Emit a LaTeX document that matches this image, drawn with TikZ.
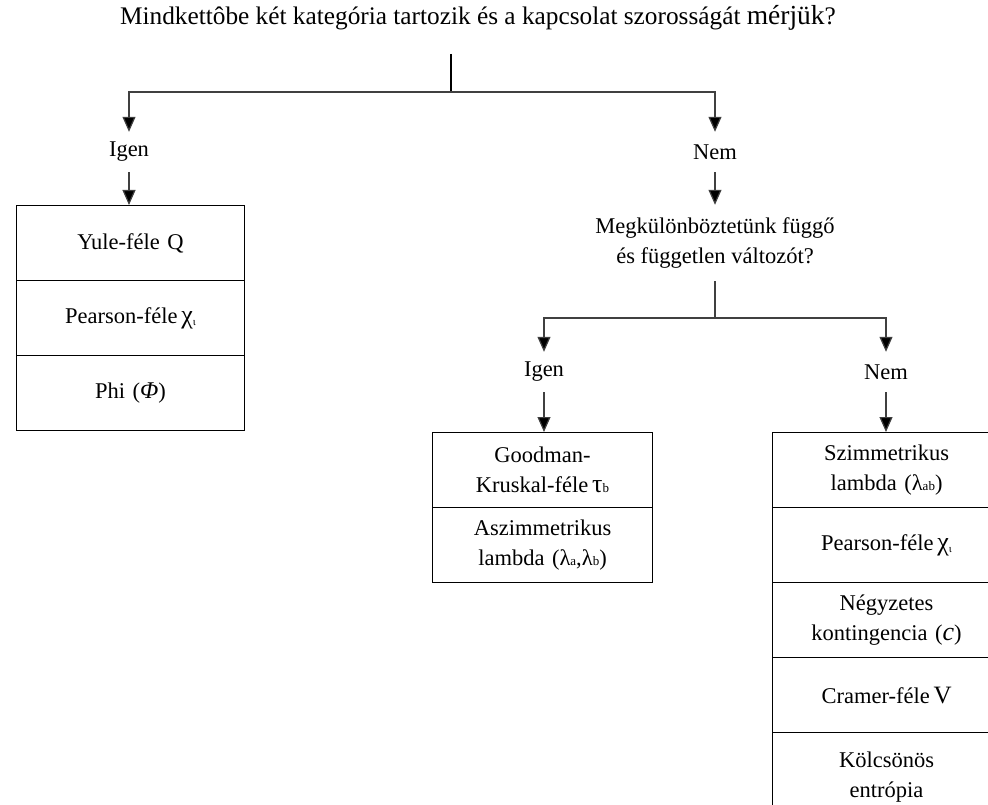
\documentclass[tikz,border=0pt]{standalone}
\usepackage{fontspec}
\setmainfont{Liberation Serif}
\usetikzlibrary{arrows.meta}

\newcommand{\smallsub}[1]{{\fontsize{13}{13}\selectfont #1}}
\newcommand{\chimark}{{\fontsize{26}{26}\selectfont χ}\raisebox{-2pt}{\fontsize{11}{11}\selectfont ι}}

\begin{document}
\begin{tikzpicture}[x=1pt,y=-1pt,
  font=\fontsize{22.5}{30}\selectfont,
  conn/.style={line width=1.2pt, draw=black!75},
  arr/.style={conn, -{Triangle[length=15pt,width=13pt,fill=black]}},
  lbl/.style={inner sep=0pt, minimum height=40pt, align=center},
  cell/.style={draw, line width=1.1pt, minimum width=228pt, minimum height=75pt,
               inner sep=0pt, align=center, anchor=north west, text width=220pt},
  midcell/.style={cell, minimum width=220pt, text width=212pt}]

\useasboundingbox (0,0) rectangle (988,805);
\fill[white] (0,0) rectangle (988,805);
\clip (0,0) rectangle (988,805);

% question at the top
\node[inner sep=0pt, font=\fontsize{25.3}{30}\selectfont] (title) at (478,18)
  {Mindkettôbe két kategória tartozik és a kapcsolat szorosságát {\fontsize{27.5}{30}\selectfont mérjük}?};
\coordinate (t1) at (451,54);
\coordinate (j1) at (451,92);

% first split
\node[lbl] (igen1) at (129,152) {Igen};
\node[lbl] (nem1) at (715,152) {Nem};

% left box
\node[cell] (yule) at (16,205) {Yule-féle Q};
\node[cell] (pear1) at (16,280) {Pearson-féle\,\chimark};
\node[cell] (phi) at (16,355) {Phi (\textit{\fontsize{24}{24}\selectfont Φ})};

% second question
\node[inner sep=0pt, minimum height=76pt, align=center] (q2) at (715,243)
  {Megkülönböztetünk függő\\és független változót?};
\coordinate (j2) at (715,318);

\node[lbl] (igen2) at (544,372) {Igen};
\node[lbl] (nem2) at (886,372) {Nem};

% middle box
\node[midcell] (gk) at (432,432) {Goodman-\\Kruskal-féle\,{\fontsize{26}{26}\selectfont τ}\smallsub{b}};
\node[midcell] (asz) at (432,507) {Aszimmetrikus\\lambda (λ\smallsub{a},λ\smallsub{b})};

% right box
\node[cell] (szim) at (772,432) {Szimmetrikus\\lambda (λ\smallsub{ab})};
\node[cell] (pear2) at (772,507) {Pearson-féle\,\chimark};
\node[cell] (negy) at (772,582) {Négyzetes\\kontingencia (\textit{\fontsize{26}{26}\selectfont c})};
\node[cell] (cram) at (772,657) {Cramer-féle\,{\fontsize{25}{25}\selectfont V}};
\node[cell, minimum height=90pt] (kolcs) at (772,732) {Kölcsönös\\entrópia\\[6pt]};

% connectors
\draw[conn, line width=1.5pt, draw=black] (t1) -- (j1);
\draw[arr] (j1) -| (igen1.north);
\draw[arr] (j1) -| (nem1.north);
\draw[arr] (igen1.south) -- (igen1.south |- yule.north);
\draw[arr] (nem1.south) -- (q2.north);
\draw[conn] (q2.south) -- (j2);
\draw[arr] (j2) -| (igen2.north);
\draw[arr] (j2) -| (nem2.north);
\draw[arr] (igen2.south) -- (igen2.south |- gk.north);
\draw[arr] (nem2.south) -- (nem2.south |- szim.north);
\end{tikzpicture}
\end{document}
